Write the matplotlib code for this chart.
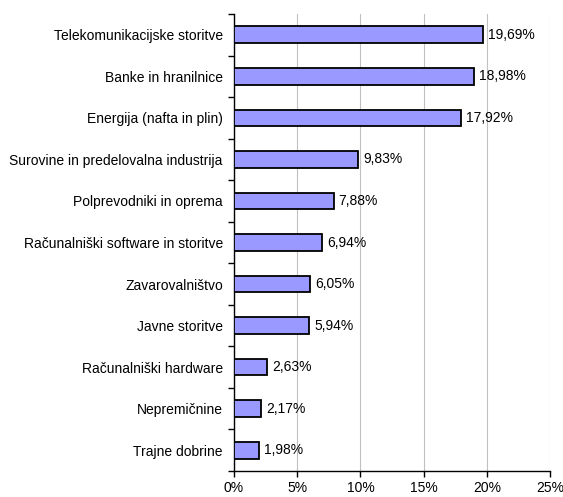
import matplotlib
matplotlib.use("Agg")
import matplotlib.pyplot as plt
from matplotlib.ticker import MultipleLocator, FuncFormatter

categories = [
    "Telekomunikacijske storitve",
    "Banke in hranilnice",
    "Energija (nafta in plin)",
    "Surovine in predelovalna industrija",
    "Polprevodniki in oprema",
    "Računalniški software in storitve",
    "Zavarovalništvo",
    "Javne storitve",
    "Računalniški hardware",
    "Nepremičnine",
    "Trajne dobrine",
]
values = [19.69, 18.98, 17.92, 9.83, 7.88, 6.94, 6.05, 5.94, 2.63, 2.17, 1.98]

plt.rcParams["font.family"] = ["Liberation Sans", "DejaVu Sans"]
plt.rcParams["font.size"] = 10

fig = plt.figure(figsize=(5.63, 4.97), dpi=100)
ax = fig.add_axes([0.4156, 0.0523, 0.5615, 0.9195])

n = len(categories)
pos = list(range(n))[::-1]
ax.barh(pos, values, height=0.4, color="#9999FF", edgecolor="black", linewidth=1.3, zorder=3)

for p, v in zip(pos, values):
    ax.text(v + 0.4, p, f"{v:.2f}%".replace(".", ","), va="center", ha="left", zorder=4)

ax.set_xlim(0, 25)
ax.set_ylim(-0.5, n - 0.5)
ax.xaxis.set_major_locator(MultipleLocator(5))
ax.xaxis.set_major_formatter(FuncFormatter(lambda x, _: f"{x:.0f}%"))
ax.grid(axis="x", color="#c0c0c0", linewidth=0.8, zorder=0)

ax.set_yticks(pos)
ax.set_yticklabels(categories)
ax.set_yticks([i - 0.5 for i in range(n + 1)], minor=True)
ax.tick_params(axis="y", which="major", length=0, pad=8)
ax.tick_params(axis="y", which="minor", length=4, width=1, direction="out")
ax.tick_params(axis="x", length=4, width=1, direction="out", pad=3)

for s in ["top", "right"]:
    ax.spines[s].set_visible(False)
ax.spines["left"].set_linewidth(1)
ax.spines["bottom"].set_linewidth(1)

fig.savefig("out.png", dpi=100)
